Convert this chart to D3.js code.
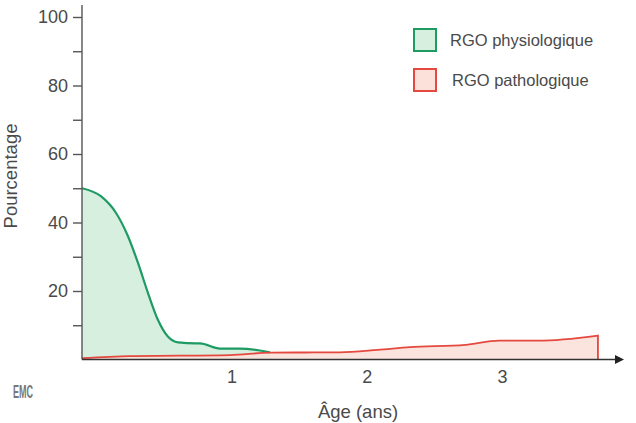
<!DOCTYPE html>
<html><head><meta charset="utf-8">
<script src="https://cdn.jsdelivr.net/npm/d3@7"></script>
<style>
html,body{margin:0;padding:0;background:#fff;}
svg{display:block;font-family:"Liberation Sans",Arial,sans-serif;}
</style></head>
<body>
<svg id="chart" width="636" height="423"></svg>
<script>
// ---- data ----
const seriesNames = ["RGO physiologique", "RGO pathologique"];
const physioAge   = [-0.105, 0.037, 0.148, 0.235, 0.309, 0.383, 0.456, 0.530, 0.605, 0.737, 0.767, 0.915, 1.063, 1.285];
const physioPct   = [50.0, 47.6, 42.7, 36.0, 28.2, 19.4, 11.6, 6.7, 5.0, 4.7, 4.7, 3.2, 3.2, 2.1];
const pathoAge    = [-0.105, 0.25, 0.99, 1.285, 1.80, 2.08, 2.32, 2.73, 2.98, 3.27, 3.71];
const pathoPct    = [0.4, 1.0, 1.3, 2.0, 2.1, 2.8, 3.6, 4.3, 5.5, 5.5, 7.0];
const yTickLabels = [20, 40, 60, 80, 100];
const yMinorTicks = [10, 30, 50, 70, 90];
const xTickLabels = [1, 2, 3];
const xTitle = "Âge (ans)";
const yTitle = "Pourcentage";
const logoText = "EMC";

// ---- layout ----
const svg = d3.select("#chart");
const x = d3.scaleLinear().domain([-0.105, 3.95]).range([82, 630.4]);
const y = d3.scaleLinear().domain([0, 100]).range([359.5, 17]);
const colors = {
  physio: {stroke: "#1e9a63", fill: "#d6efdf"},
  patho:  {stroke: "#e4483e", fill: "#fbe1da"}
};
const textColor = "#4a4a4a";
const font = "'Liberation Sans', Arial, sans-serif";

const physio = physioAge.map((a, i) => ({a, v: physioPct[i]}));
const patho = pathoAge.map((a, i) => ({a, v: pathoPct[i]}));

const area = d3.area().x(d => x(d.a)).y0(y(0)).y1(d => y(d.v)).curve(d3.curveMonotoneX);
const line = d3.line().x(d => x(d.a)).y(d => y(d.v)).curve(d3.curveMonotoneX);

svg.append("path").datum(physio).attr("d", area).attr("fill", colors.physio.fill);
svg.append("path").datum(patho).attr("d", area).attr("fill", colors.patho.fill).attr("fill-opacity", 0.9);

svg.append("path").datum(physio).attr("d", line)
  .attr("fill", "none").attr("stroke", colors.physio.stroke).attr("stroke-width", 2.2);
const last = patho[patho.length - 1];
svg.append("path").datum(patho)
  .attr("d", line(patho) + "L" + x(last.a) + "," + y(0))
  .attr("fill", "none").attr("stroke", colors.patho.stroke).attr("stroke-width", 1.8);

// y axis
const yAxisG = svg.append("g").attr("transform", `translate(${x.range()[0]},0)`);
yAxisG.append("line").attr("x1", 0).attr("x2", 0).attr("y1", 5).attr("y2", y(0))
  .attr("stroke", "#555").attr("stroke-width", 1.4);
const ya = yAxisG.append("g").call(d3.axisLeft(y).tickValues(yTickLabels).tickSize(9).tickPadding(5));
ya.select(".domain").remove();
ya.selectAll(".tick line").attr("stroke", "#555").attr("stroke-width", 1.4);
ya.selectAll(".tick text").attr("fill", textColor).style("font-size", "18px").style("font-family", font);
const ym = yAxisG.append("g").call(d3.axisLeft(y).tickValues(yMinorTicks).tickSize(9).tickFormat(""));
ym.select(".domain").remove();
ym.selectAll(".tick line").attr("stroke", "#555").attr("stroke-width", 1.4);

// x axis
svg.append("line").attr("x1", x.range()[0]).attr("x2", 616).attr("y1", y(0)).attr("y2", y(0))
  .attr("stroke", "#333").attr("stroke-width", 1.6);
svg.append("path").attr("d", `M615,${y(0)-4.5}L624,${y(0)}L615,${y(0)+4.5}Z`).attr("fill", "#222");
const xa = svg.append("g").attr("transform", `translate(0,${y(0)})`)
  .call(d3.axisBottom(x).tickValues(xTickLabels).tickSize(0).tickPadding(11).tickFormat(d3.format("d")));
xa.select(".domain").remove();
xa.selectAll(".tick text").attr("fill", textColor).style("font-size", "18px").style("font-family", font);

// titles
svg.append("text").attr("x", 358).attr("y", 418).attr("text-anchor", "middle")
  .attr("fill", textColor).style("font-size", "18.5px").text(xTitle);
svg.append("text").attr("transform", "translate(17,176) rotate(-90)").attr("text-anchor", "middle")
  .attr("fill", textColor).style("font-size", "18.5px").text(yTitle);

// logo
svg.append("text").attr("transform", "translate(13,398) scale(0.5,1)")
  .attr("fill", "#777").style("font-size", "18px").style("font-weight", "bold").text(logoText);

// legend
const legend = svg.append("g");
[["physio", 29], ["patho", 69]].forEach(([k, top], i) => {
  legend.append("rect").attr("x", 414).attr("y", top).attr("width", 22).attr("height", 22)
    .attr("fill", colors[k].fill).attr("stroke", colors[k].stroke).attr("stroke-width", 2);
  legend.append("text").attr("x", 450 + i * 2).attr("y", top + 17)
    .attr("fill", textColor).style("font-size", "16.5px").text(seriesNames[i]);
});
</script>
</body></html>
